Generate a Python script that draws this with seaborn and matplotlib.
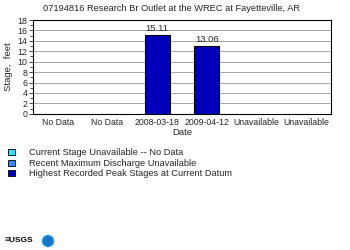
import matplotlib
matplotlib.use("Agg")
import matplotlib.pyplot as plt
import seaborn as sns
import pandas as pd
import numpy as np
from matplotlib.patches import Rectangle, Ellipse

categories = ["No Data", "No Data ", "2008-03-18", "2009-04-12", "Unavailable", "Unavailable "]
stages = [np.nan, np.nan, 15.11, 13.06, np.nan, np.nan]
value_labels = ["", "", "15.11", "13.06", "", ""]
legend_labels = ["Current Stage Unavailable -- No Data",
                 "Recent Maximum Discharge Unavailable",
                 "Highest Recorded Peak Stages at Current Datum"]
legend_colors = ["#33ddff", "#3388ff", "#0000bb"]
title = "07194816 Research Br Outlet at the WREC at Fayetteville, AR"

sns.set_style("white")
plt.rcParams['font.family'] = ['Liberation Sans', 'DejaVu Sans']

df = pd.DataFrame({"cat": categories, "stage": stages})

fig = plt.figure(figsize=(3.5, 2.5), dpi=100)
ax = fig.add_axes([0.094, 0.545, 0.852, 0.375])
sns.barplot(data=df.dropna(), x="cat", y="stage", order=categories, ax=ax,
            color="#0000bb", edgecolor="black", linewidth=0.8, width=0.5,
            saturation=1, zorder=3)
for i, (v, lab) in enumerate(zip(stages, value_labels)):
    if lab:
        ax.text(i, v + 0.3, lab, ha="center", va="bottom", fontsize=6.8)

ax.set_xlim(-0.5, len(categories) - 0.5)
ax.set_ylim(0, 18)
ax.set_yticks(np.arange(0, 19, 2))
ax.set_yticks(np.arange(1, 18, 2), minor=True)
ax.yaxis.grid(True, color="#999999", linewidth=0.6, zorder=0)
ax.set_axisbelow(True)
ax.tick_params(axis="y", which="major", length=3, width=0.6, labelsize=6.3, pad=1, left=True)
ax.tick_params(axis="y", which="minor", length=2, width=0.6, left=True)
ax.tick_params(axis="x", length=0, labelsize=6.3, pad=3)
ax.set_xticks(range(len(categories)))
ax.set_xticklabels([c.strip() for c in categories])
for s in ax.spines.values():
    s.set_color("black")
    s.set_linewidth(0.8)
ax.set_xlabel("Date", fontsize=6.8, labelpad=1)
ax.set_ylabel("Stage,  feet", fontsize=6.8, labelpad=3)
fig.text(0.49, 0.965, title, ha="center", va="center", fontsize=6.7)

# legend
for i, (lab, col) in enumerate(zip(legend_labels, legend_colors)):
    yc = 1 - (152.5 + 10.5 * i) / 250
    fig.patches.append(Rectangle((8 / 350, yc - 2.75 / 250), 7 / 350, 6 / 250,
                                 transform=fig.transFigure, facecolor=col,
                                 edgecolor="black", linewidth=0.6))
    fig.text(29 / 350, yc, lab, ha="left", va="center", fontsize=6.7)

# logos
fig.text(5 / 350, 1 - 241 / 250, "\u2261USGS", ha="left", va="center",
         fontsize=6, fontweight="bold", color="black")
fig.patches.append(Ellipse((48 / 350, 1 - 241 / 250), 11 / 350, 11 / 250,
                           transform=fig.transFigure,
                           facecolor="#1a73c9", edgecolor="#2299dd"))

fig.savefig("out.png", dpi=100)
